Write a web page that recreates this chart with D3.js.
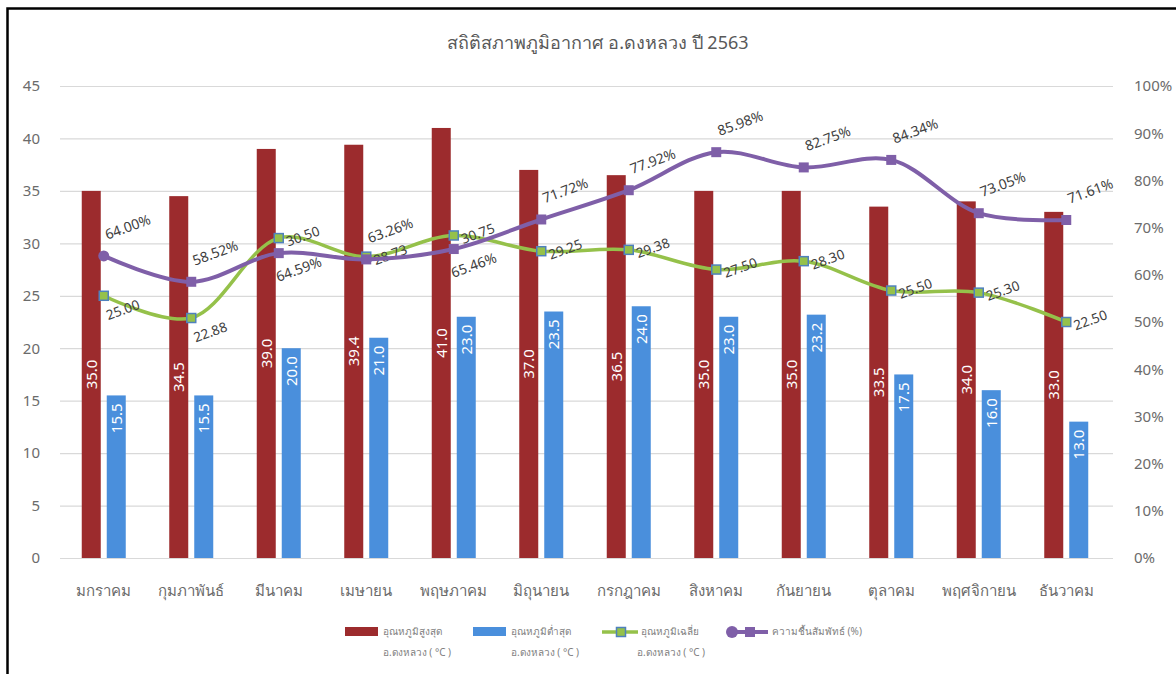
<!DOCTYPE html>
<html>
<head>
<meta charset="utf-8">
<script src="https://cdn.jsdelivr.net/npm/d3@7"></script>
<style>
  body { margin: 0; background: #fff; }
  svg text { font-family: "Noto Sans", "DejaVu Sans", sans-serif; }
</style>
</head>
<body>
<div id="chart"></div>
<script>
// data
const months = ['มกราคม', 'กุมภาพันธ์', 'มีนาคม', 'เมษายน', 'พฤษภาคม', 'มิถุนายน',
  'กรกฎาคม', 'สิงหาคม', 'กันยายน', 'ตุลาคม', 'พฤศจิกายน', 'ธันวาคม'];
const tempMax = [35.0, 34.5, 39.0, 39.4, 41.0, 37.0, 36.5, 35.0, 35.0, 33.5, 34.0, 33.0];
const tempMin = [15.5, 15.5, 20.0, 21.0, 23.0, 23.5, 24.0, 23.0, 23.2, 17.5, 16.0, 13.0];
const tempAvg = [25.00, 22.88, 30.50, 28.73, 30.75, 29.25, 29.38, 27.50, 28.30, 25.50, 25.30, 22.50];
const humidity = [64.00, 58.52, 64.59, 63.26, 65.46, 71.72, 77.92, 85.98, 82.75, 84.34, 73.05, 71.61];
const leftTicks = [0, 5, 10, 15, 20, 25, 30, 35, 40, 45];
const rightTicks = [0, 10, 20, 30, 40, 50, 60, 70, 80, 90, 100];

const title = 'สถิติสภาพภูมิอากาศ อ.ดงหลวง ปี 2563';
const legendItems = [
  { key: 'max', line1: 'อุณหภูมิสูงสุด', line2: 'อ.ดงหลวง ( °C )' },
  { key: 'min', line1: 'อุณหภูมิต่ำสุด', line2: 'อ.ดงหลวง ( °C )' },
  { key: 'avg', line1: 'อุณหภูมิเฉลี่ย', line2: 'อ.ดงหลวง ( °C )' },
  { key: 'hum', line1: 'ความชื้นสัมพัทธ์ (%)', line2: '' }
];

const W = 1176, H = 674;
const colors = { max: '#9c2b2d', min: '#4a8fdc', avg: '#95c14a', avgEdge: '#4f81bd', hum: '#7f5fa8' };
const axisColor = '#6b6b6b', labelColor = '#404040';

const svg = d3.select('#chart').append('svg')
  .attr('width', W).attr('height', H);

// frame
svg.append('path')
  .attr('d', 'M7.5,' + (H + 10) + ' L7.5,8.5 L' + (W + 10) + ',8.5')
  .attr('fill', 'none').attr('stroke', '#000').attr('stroke-width', 2.5);

svg.append('text')
  .attr('x', 598).attr('y', 49)
  .attr('text-anchor', 'middle')
  .attr('font-size', 18).attr('fill', '#595959')
  .text(title);

const x = d3.scaleBand().domain(months).range([60, 1110]).padding(0);
const x1 = d3.scaleBand().domain(['max', 'min']).range([-22, 22]).paddingInner(0.24);
const y = d3.scaleLinear().domain([0, 45]).range([558, 86]);
const yR = d3.scaleLinear().domain([0, 100]).range([558, 86]);
const cx = m => x(m) + x.bandwidth() / 2;

// gridlines
svg.append('g').selectAll('line').data(leftTicks).join('line')
  .attr('x1', 60).attr('x2', 1113)
  .attr('y1', d => y(d) + 0.5).attr('y2', d => y(d) + 0.5)
  .attr('stroke', '#d9d9d9').attr('stroke-width', 1.2);

// left axis
const gl = svg.append('g').attr('transform', 'translate(40,0)')
  .call(d3.axisLeft(y).tickValues(leftTicks).tickSize(0).tickPadding(0));
gl.select('.domain').remove();
gl.selectAll('text').attr('font-size', 15).attr('fill', axisColor)
  .attr('font-family', '"Noto Sans", sans-serif');

// right axis
const gr = svg.append('g').attr('transform', 'translate(1134,0)')
  .call(d3.axisRight(yR).tickValues(rightTicks).tickSize(0).tickPadding(0).tickFormat(d => d + '%'));
gr.select('.domain').remove();
gr.selectAll('text').attr('font-size', 15).attr('fill', axisColor)
  .attr('font-family', '"Noto Sans", sans-serif');

// month labels
svg.append('g').selectAll('text').data(months).join('text')
  .attr('x', d => cx(d)).attr('y', 596)
  .attr('text-anchor', 'middle').attr('font-size', 15).attr('fill', axisColor)
  .text(d => d);

// bars
const rows = months.map((m, i) => ({ m, max: tempMax[i], min: tempMin[i], avg: tempAvg[i], hum: humidity[i] }));
const barG = svg.append('g');
['max', 'min'].forEach(k => {
  barG.selectAll('rect.' + k).data(rows).join('rect')
    .attr('class', k)
    .attr('x', d => cx(d.m) + x1(k))
    .attr('width', x1.bandwidth())
    .attr('y', d => y(d[k]))
    .attr('height', d => y(0) - y(d[k]))
    .attr('fill', colors[k]);
});
// red labels centred, blue labels at inside end
barG.selectAll('text.lmax').data(rows).join('text')
  .attr('class', 'lmax')
  .attr('transform', d => 'translate(' + (cx(d.m) + x1('max') + x1.bandwidth() / 2) + ',' + ((y(d.max) + y(0)) / 2) + ') rotate(-90)')
  .attr('text-anchor', 'middle').attr('dy', '0.36em')
  .attr('font-size', 15).attr('fill', '#fff')
  .text(d => d.max.toFixed(1));
barG.selectAll('text.lmin').data(rows).join('text')
  .attr('class', 'lmin')
  .attr('transform', d => 'translate(' + (cx(d.m) + x1('min') + x1.bandwidth() / 2) + ',' + (y(d.min) + 8) + ') rotate(-90)')
  .attr('text-anchor', 'end').attr('dy', '0.36em')
  .attr('font-size', 15).attr('fill', '#fff')
  .text(d => d.min.toFixed(1));

// average temperature line
const lineAvg = d3.line().x(d => cx(d.m)).y(d => y(d.avg)).curve(d3.curveCatmullRom.alpha(0.5));
svg.append('path').datum(rows)
  .attr('d', lineAvg).attr('fill', 'none')
  .attr('stroke', colors.avg).attr('stroke-width', 3.5);
svg.append('g').selectAll('rect').data(rows).join('rect')
  .attr('x', d => cx(d.m) - 4.5).attr('y', d => y(d.avg) - 4.5)
  .attr('width', 9).attr('height', 9)
  .attr('fill', colors.avg).attr('stroke', colors.avgEdge).attr('stroke-width', 1.5);
// first two labels sit below right, the rest to the right
svg.append('g').selectAll('text').data(rows).join('text')
  .attr('transform', (d, i) => {
    const dx = i < 2 ? 19 : 24, dy = i < 2 ? 14 : -2;
    return 'translate(' + (cx(d.m) + dx) + ',' + (y(d.avg) + dy) + ') rotate(-20)';
  })
  .attr('text-anchor', 'middle').attr('dy', '0.36em')
  .attr('font-size', 13.5).attr('fill', labelColor)
  .text(d => d.avg.toFixed(2));

// humidity line
const lineHum = d3.line().x(d => cx(d.m)).y(d => yR(d.hum)).curve(d3.curveCatmullRom.alpha(0.5));
svg.append('path').datum(rows)
  .attr('d', lineHum).attr('fill', 'none')
  .attr('stroke', colors.hum).attr('stroke-width', 4);
const humMarks = svg.append('g');
humMarks.selectAll('rect').data(rows.slice(1)).join('rect')
  .attr('x', d => cx(d.m) - 5).attr('y', d => yR(d.hum) - 5)
  .attr('width', 10).attr('height', 10).attr('fill', colors.hum);
humMarks.append('circle')
  .attr('cx', cx(rows[0].m)).attr('cy', yR(rows[0].hum)).attr('r', 5.5)
  .attr('fill', colors.hum);
const humBelow = new Set([2, 4]);
svg.append('g').selectAll('text').data(rows).join('text')
  .attr('transform', (d, i) => {
    const dx = humBelow.has(i) ? 20 : 24, dy = humBelow.has(i) ? 16 : -29;
    return 'translate(' + (cx(d.m) + dx) + ',' + (yR(d.hum) + dy) + ') rotate(-20)';
  })
  .attr('text-anchor', 'middle').attr('dy', '0.36em')
  .attr('font-size', 14).attr('fill', labelColor)
  .text(d => d.hum.toFixed(2) + '%');

// legend
const legX = [345, 473, 602, 727];
const leg = svg.append('g').attr('font-size', 10).attr('fill', '#7f7f7f');
legendItems.forEach((it, i) => {
  const g = leg.append('g').attr('transform', 'translate(' + legX[i] + ',0)');
  let tx;
  if (it.key === 'max' || it.key === 'min') {
    g.append('rect').attr('x', 0).attr('y', 627).attr('width', 33).attr('height', 9).attr('fill', colors[it.key]);
    tx = 38;
  } else if (it.key === 'avg') {
    g.append('line').attr('x1', 0).attr('x2', 36).attr('y1', 632).attr('y2', 632)
      .attr('stroke', colors.avg).attr('stroke-width', 3.5);
    g.append('rect').attr('x', 14.5).attr('y', 627.5).attr('width', 9).attr('height', 9)
      .attr('fill', colors.avg).attr('stroke', colors.avgEdge).attr('stroke-width', 1.5);
    tx = 39;
  } else {
    g.append('line').attr('x1', 5).attr('x2', 41).attr('y1', 632).attr('y2', 632)
      .attr('stroke', colors.hum).attr('stroke-width', 4);
    g.append('circle').attr('cx', 5).attr('cy', 632).attr('r', 6).attr('fill', colors.hum);
    g.append('rect').attr('x', 18).attr('y', 627).attr('width', 10).attr('height', 10).attr('fill', colors.hum);
    tx = 45;
  }
  g.append('text').attr('x', tx).attr('y', 635).text(it.line1);
  if (it.line2) g.append('text').attr('x', tx + (it.key === 'avg' ? -4 : 0)).attr('y', 656).text(it.line2);
});
</script>
</body>
</html>
